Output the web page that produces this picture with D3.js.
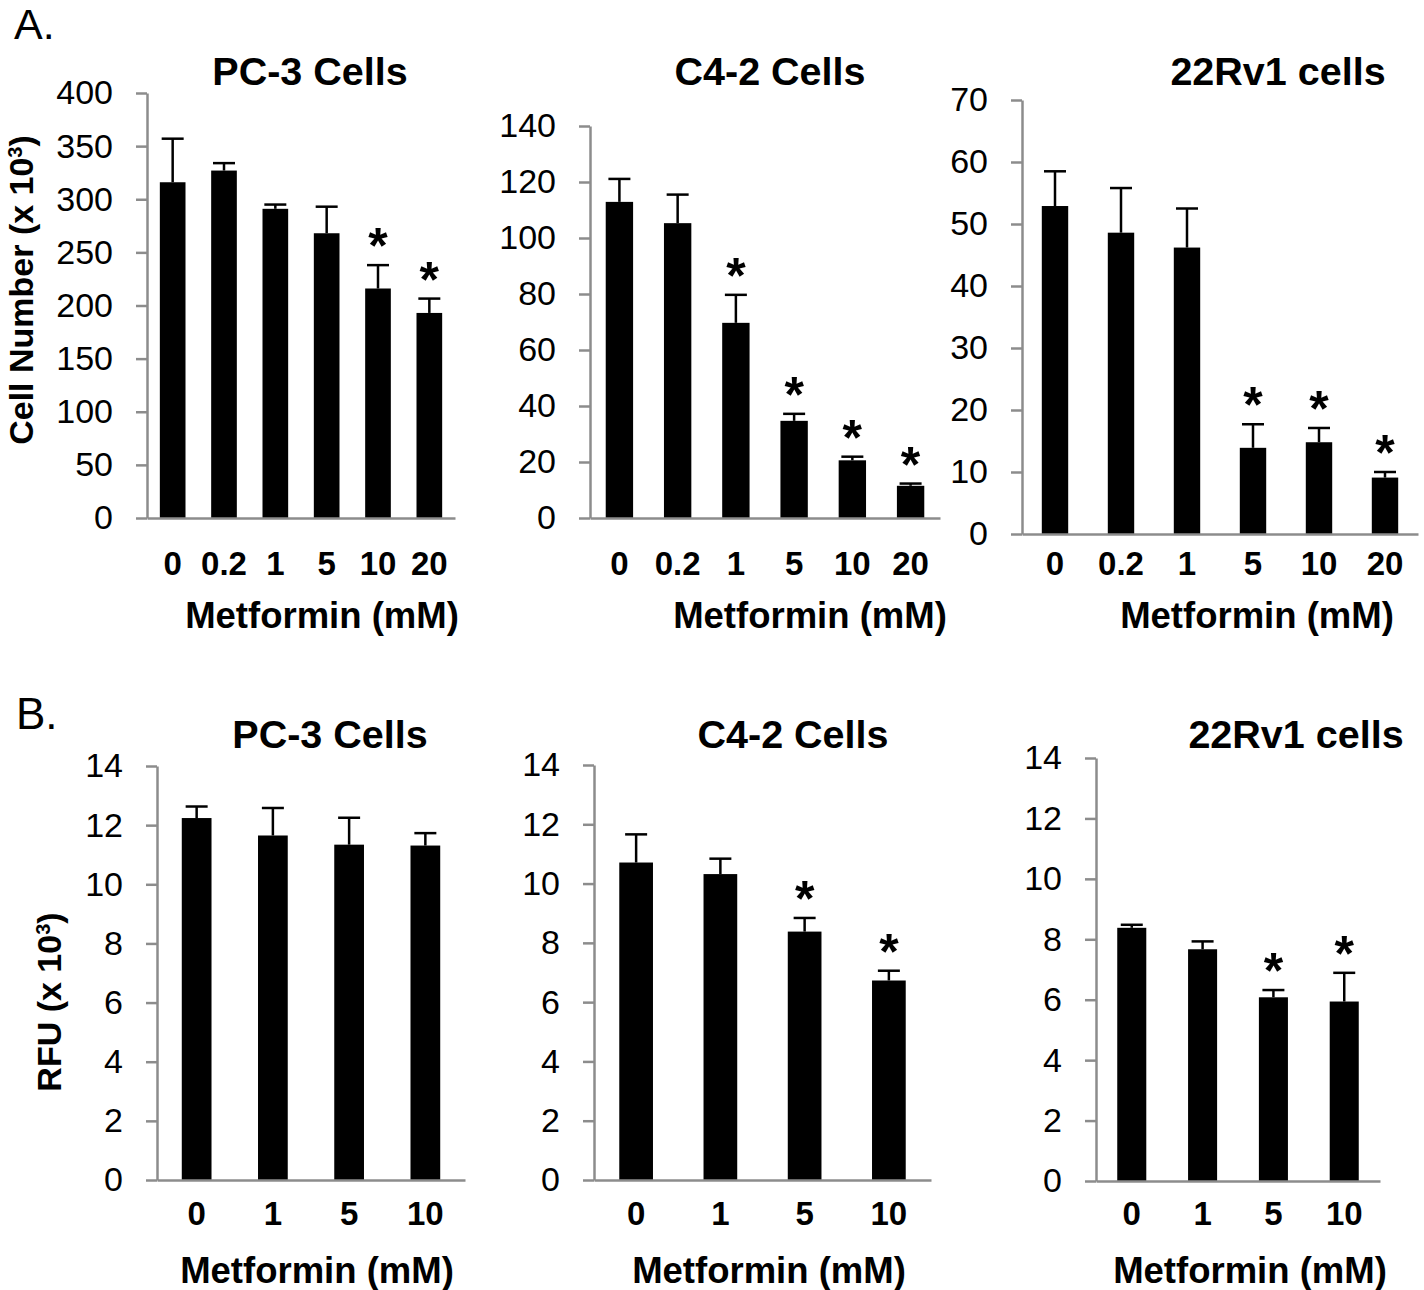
<!DOCTYPE html>
<html><head><meta charset="utf-8">
<script src="https://cdn.jsdelivr.net/npm/d3@7"></script>
<style>body{margin:0;background:#fff} svg{display:block}</style>
</head><body><svg id="c" width="1424" height="1290"></svg>
<script>
// ---------- data ----------
const dosesA = ["0", "0.2", "1", "5", "10", "20"];
const dosesB = ["0", "1", "5", "10"];
const titles = ["PC-3 Cells", "C4-2 Cells", "22Rv1 cells"];
const xAxisTitle = "Metformin (mM)";

// A. Cell number (x 10^3)
const pc3Count    = [316, 327, 291, 268, 216, 193];
const pc3CountErr = [41, 7, 4, 25, 22, 13.5];
const pc3CountSig = [0, 0, 0, 0, 1, 1];
const c42Count    = [112.9, 105.3, 69.7, 34.7, 20.6, 11.5];
const c42CountErr = [8.2, 10.2, 10, 2.5, 1.3, 0.8];
const c42CountSig = [0, 0, 1, 1, 1, 1];
const rv1Count    = [52.9, 48.6, 46.2, 13.9, 14.8, 9.1];
const rv1CountErr = [5.6, 7.2, 6.3, 3.8, 2.3, 0.9];
const rv1CountSig = [0, 0, 0, 1, 1, 1];

// B. RFU (x 10^3)
const pc3Rfu    = [12.24, 11.65, 11.34, 11.31];
const pc3RfuErr = [0.39, 0.93, 0.91, 0.42];
const pc3RfuSig = [0, 0, 0, 0];
const c42Rfu    = [10.71, 10.32, 8.38, 6.73];
const c42RfuErr = [0.95, 0.52, 0.46, 0.33];
const c42RfuSig = [0, 0, 1, 1];
const rv1Rfu    = [8.38, 7.67, 6.08, 5.94];
const rv1RfuErr = [0.10, 0.26, 0.24, 0.95];
const rv1RfuSig = [0, 0, 1, 1];

const ticksPc3Count = [0, 50, 100, 150, 200, 250, 300, 350, 400];
const ticksC42Count = [0, 20, 40, 60, 80, 100, 120, 140];
const ticksRv1Count = [0, 10, 20, 30, 40, 50, 60, 70];
const ticksRfu      = [0, 2, 4, 6, 8, 10, 12, 14];

// ---------- layout ----------
const FONT = '"Liberation Sans", Arial, Helvetica, sans-serif';
const AXIS = "#8c8c8c";
const panels = [
  {title: titles[0], cats: dosesA, vals: pc3Count, err: pc3CountErr, sig: pc3CountSig, ticks: ticksPc3Count,
   x0: 147, x1: 455, yTop: 93, yBot: 518, pi: 0.5, po: 0.25, titleX: 310, titleY: 85, labY: 575, xlabX: 322, xlabY: 628},
  {title: titles[1], cats: dosesA, vals: c42Count, err: c42CountErr, sig: c42CountSig, ticks: ticksC42Count,
   x0: 590, x1: 940, yTop: 126, yBot: 518, pi: 0.53, po: 0.27, titleX: 770, titleY: 85, labY: 575, xlabX: 810, xlabY: 628},
  {title: titles[2], cats: dosesA, vals: rv1Count, err: rv1CountErr, sig: rv1CountSig, ticks: ticksRv1Count,
   x0: 1022, x1: 1418, yTop: 100, yBot: 534, pi: 0.6, po: 0.3, titleX: 1278, titleY: 85, labY: 575, xlabX: 1257, xlabY: 628},
  {title: titles[0], cats: dosesB, vals: pc3Rfu, err: pc3RfuErr, sig: pc3RfuSig, ticks: ticksRfu,
   x0: 157, x1: 465, yTop: 766, yBot: 1180, pi: 0.61, po: 0.325, titleX: 330, titleY: 748, labY: 1225, xlabX: 317, xlabY: 1283},
  {title: titles[1], cats: dosesB, vals: c42Rfu, err: c42RfuErr, sig: c42RfuSig, ticks: ticksRfu,
   x0: 594, x1: 931, yTop: 765, yBot: 1180, pi: 0.6, po: 0.3, titleX: 793, titleY: 748, labY: 1225, xlabX: 769, xlabY: 1283},
  {title: titles[2], cats: dosesB, vals: rv1Rfu, err: rv1RfuErr, sig: rv1RfuSig, ticks: ticksRfu,
   x0: 1096, x1: 1380, yTop: 758, yBot: 1181, pi: 0.59, po: 0.3, titleX: 1296, titleY: 748, labY: 1225, xlabX: 1250, xlabY: 1283}
];

const svg = d3.select("#c").attr("font-family", FONT);

panels.forEach(p => {
  const x = d3.scaleBand().domain(p.cats).range([p.x0, p.x1]).paddingInner(p.pi).paddingOuter(p.po);
  const y = d3.scaleLinear().domain([0, d3.max(p.ticks)]).range([p.yBot, p.yTop]);
  const g = svg.append("g");
  const cx = i => x(p.cats[i]) + x.bandwidth() / 2;

  // bars
  g.selectAll("rect.bar").data(p.vals).join("rect").attr("class", "bar")
    .attr("x", (d, i) => x(p.cats[i])).attr("y", d => y(d))
    .attr("width", x.bandwidth()).attr("height", d => y(0) - y(d)).attr("fill", "#000");

  // error bars (upper only)
  const eb = g.selectAll("g.eb").data(p.vals).join("g").attr("class", "eb");
  eb.append("line").attr("x1", (d, i) => cx(i)).attr("x2", (d, i) => cx(i))
    .attr("y1", d => y(d)).attr("y2", (d, i) => y(d + p.err[i]))
    .attr("stroke", "#000").attr("stroke-width", 2.5);
  eb.append("line").attr("x1", (d, i) => cx(i) - 11).attr("x2", (d, i) => cx(i) + 11)
    .attr("y1", (d, i) => y(d + p.err[i])).attr("y2", (d, i) => y(d + p.err[i]))
    .attr("stroke", "#000").attr("stroke-width", 2.5);

  // significance stars
  g.selectAll("text.star").data(p.vals.map((d, i) => ({d, i})).filter(o => p.sig[o.i]))
    .join("text").attr("class", "star")
    .attr("x", o => cx(o.i)).attr("y", o => y(o.d + p.err[o.i]) - 2)
    .attr("text-anchor", "middle").attr("font-weight", "bold").attr("font-size", 50)
    .text("*");

  // y axis
  const ya = g.append("g").attr("transform", `translate(${p.x0},0)`)
    .call(d3.axisLeft(y).tickValues(p.ticks).tickSize(11).tickSizeOuter(0).tickPadding(23).tickFormat(d3.format("d")))
    .attr("font-family", FONT).attr("font-size", 34);
  ya.select(".domain").attr("stroke", AXIS).attr("stroke-width", 2.5);
  ya.selectAll(".tick line").attr("stroke", AXIS).attr("stroke-width", 2.5);
  ya.selectAll(".tick text").attr("fill", "#000");

  // x axis
  const xa = g.append("g").attr("transform", `translate(0,${p.yBot})`)
    .call(d3.axisBottom(x).tickSize(0).tickSizeOuter(0))
    .attr("font-family", FONT).attr("font-size", 33).attr("font-weight", "bold");
  xa.select(".domain").attr("stroke", AXIS).attr("stroke-width", 2.5);
  xa.selectAll(".tick text").attr("fill", "#000").attr("y", p.labY - p.yBot).attr("dy", null);

  // titles
  g.append("text").attr("x", p.titleX).attr("y", p.titleY).attr("text-anchor", "middle")
    .attr("font-weight", "bold").attr("font-size", 39.5).text(p.title);
  g.append("text").attr("x", p.xlabX).attr("y", p.xlabY).attr("text-anchor", "middle")
    .attr("font-weight", "bold").attr("font-size", 36.5).text(xAxisTitle);
});

// y-axis titles
function yTitle(tx, ty, main) {
  const t = svg.append("text").attr("transform", `translate(${tx},${ty}) rotate(-90)`)
    .attr("text-anchor", "middle").attr("font-weight", "bold").attr("font-size", 34);
  t.append("tspan").text(main + " (x 10");
  t.append("tspan").attr("font-size", 20).attr("dy", -11).text("3");
  t.append("tspan").attr("dy", 11).text(")");
}
yTitle(33, 290, "Cell Number");
yTitle(61, 1002, "RFU");

// panel letters
svg.append("text").attr("x", 14).attr("y", 39).attr("font-size", 43).text("A.");
svg.append("text").attr("x", 16).attr("y", 729).attr("font-size", 44).text("B.");
</script></body></html>
